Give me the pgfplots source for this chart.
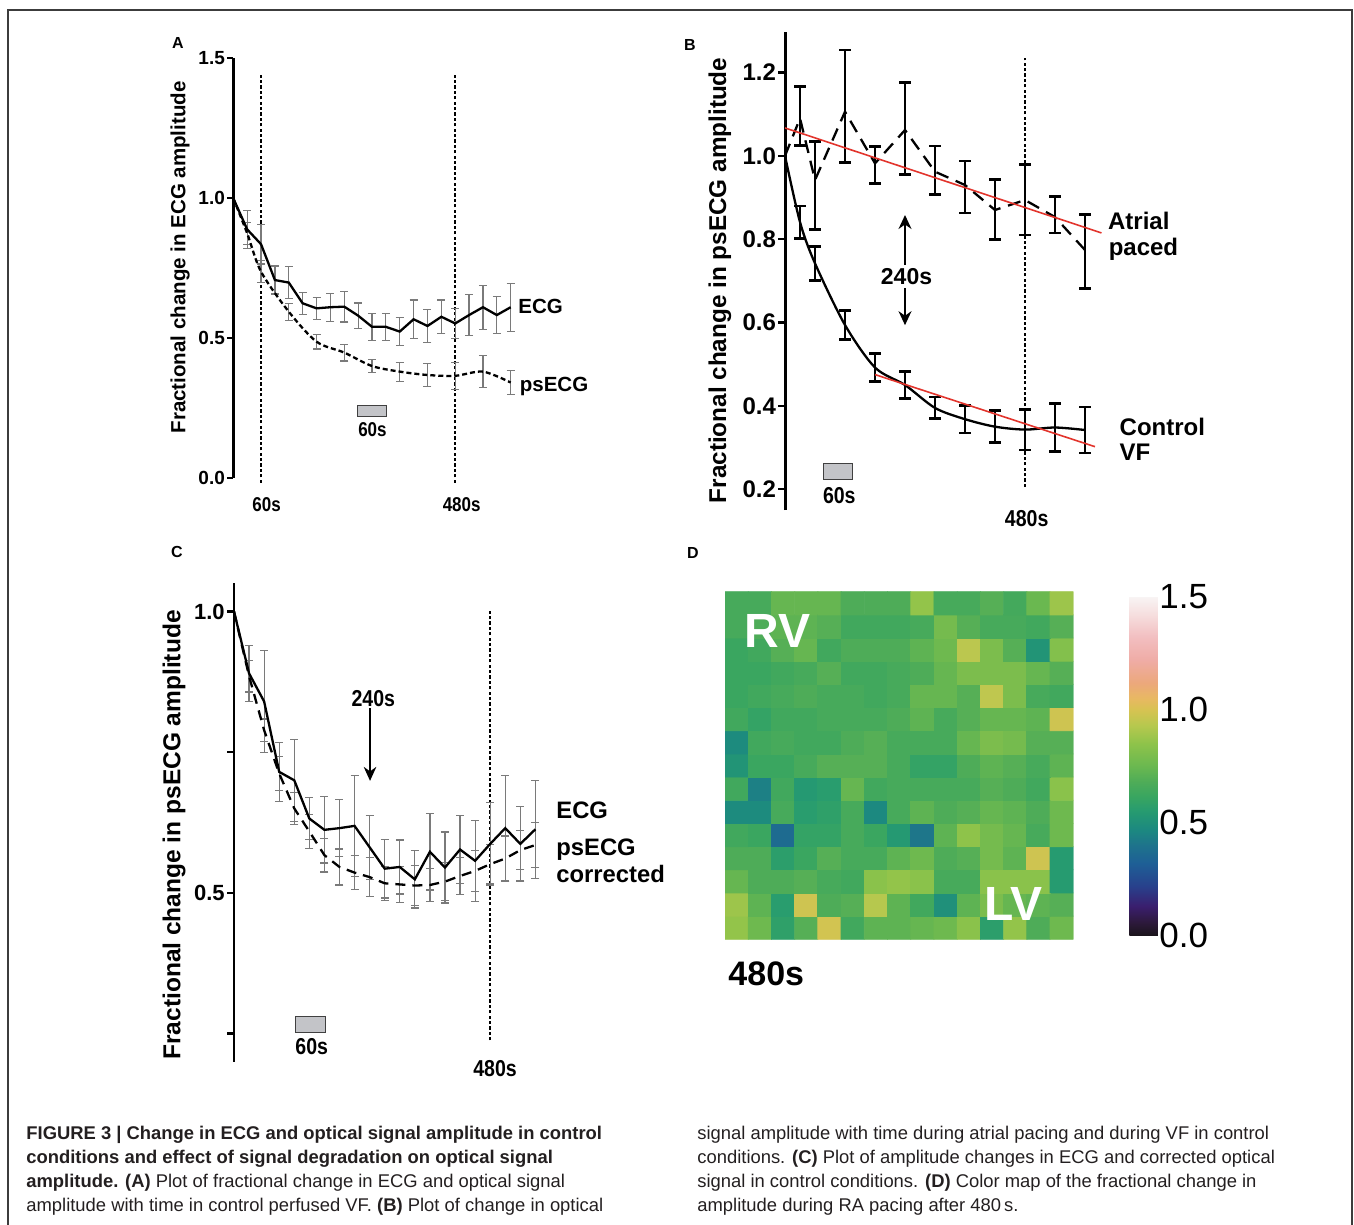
\documentclass[border=0pt]{standalone}
\usepackage{fontspec}
\setmainfont{Liberation Sans}
\newfontfamily\condfont{Liberation Sans}[FakeStretch=0.85]
\newfontfamily\capfont{Liberation Sans}
\usepackage{pgfplots}
\usepackage{pgfplotstable}
\pgfplotsset{compat=1.18}
\usetikzlibrary{arrows.meta}

\newcommand{\fs}[1]{\fontsize{#1}{#1}\selectfont}
\definecolor{capgray}{HTML}{231F20}
\definecolor{errgray}{HTML}{7A7A7A}
\definecolor{boxgray}{HTML}{C3C4C8}
\definecolor{fitred}{HTML}{E2342C}
\definecolor{framegray}{HTML}{3C3C3C}

\pgfplotsset{
  colormap={earth}{
    rgb255(0pt)=(26,20,26) rgb255(6pt)=(45,25,60) rgb255(13pt)=(58,30,110)
    rgb255(22pt)=(40,65,140) rgb255(32pt)=(30,95,150) rgb255(40pt)=(30,115,140)
    rgb255(47pt)=(28,137,128) rgb255(55pt)=(38,155,112) rgb255(62pt)=(58,166,96)
    rgb255(68pt)=(78,172,88) rgb255(75pt)=(106,184,80) rgb255(85pt)=(142,195,74)
    rgb255(93pt)=(182,200,78) rgb255(100pt)=(215,195,82) rgb255(105pt)=(232,184,98)
    rgb255(112pt)=(236,168,124) rgb255(122pt)=(239,172,166) rgb255(132pt)=(242,190,192)
    rgb255(142pt)=(246,222,222) rgb255(150pt)=(248,244,244)
  },
  panel/.style={scale only axis, clip=false, axis x line=none, axis y line*=left,
    tick align=outside, ytick pos=left,
    /pgf/number format/assume math mode=true},
  vdot/.style={black, line width=0.9pt, dash pattern=on 1.6pt off 1.1pt},
  ebars/.style n args={3}{draw=none, skip coords between index={0}{1},
    error bars/y dir=both, error bars/y explicit,
    error bars/error bar style={draw=#1, line width=#2, solid},
    error bars/error mark options={rotate=90, draw=#1, line width=#2, mark size=#3, solid}},
}

% panel A: ECG and psECG, control VF
\pgfplotstableread{
t v e
0 1.000 0
30 0.889 0.067
60 0.836 0.071
90 0.708 0.050
120 0.699 0.057
150 0.625 0.039
180 0.607 0.040
210 0.611 0.050
240 0.613 0.055
270 0.581 0.045
300 0.541 0.049
330 0.541 0.048
360 0.524 0.050
390 0.568 0.069
420 0.544 0.058
450 0.577 0.060
480 0.553 0.054
510 0.583 0.073
540 0.611 0.079
570 0.583 0.067
600 0.611 0.086
}\ecgA
\pgfplotstableread{
t v e
0 1.000 0
30 0.875 0.040
60 0.738 0.039
120 0.595 0.030
180 0.488 0.026
240 0.449 0.030
300 0.401 0.024
360 0.381 0.034
420 0.369 0.040
480 0.366 0.048
540 0.381 0.057
600 0.342 0.044
}\psA

% panel B: psECG, atrial paced and control VF
\pgfplotstableread{
t v ep em
0 1.000 0 0
30 1.090 0.077 0.065
60 0.942 0.093 0.119
120 1.106 0.148 0.122
180 0.982 0.040 0.048
240 1.062 0.114 0.106
300 0.962 0.062 0.055
360 0.930 0.058 0.067
420 0.870 0.073 0.071
480 0.894 0.086 0.084
540 0.853 0.050 0.038
600 0.774 0.086 0.092
}\atrialB
\pgfplotstableread{
t v e
0 1.000 0
30 0.841 0.039
60 0.742 0.041
120 0.594 0.034
180 0.492 0.033
240 0.450 0.033
300 0.395 0.026
360 0.368 0.033
420 0.350 0.038
480 0.343 0.049
540 0.348 0.058
600 0.342 0.055
}\vfB

% panel C: ECG and corrected psECG
\pgfplotstableread{
t v e
0 1.000 0
30 0.890 0.050
60 0.840 0.090
90 0.715 0.052
120 0.700 0.073
150 0.632 0.037
180 0.612 0.059
210 0.615 0.051
240 0.619 0.090
270 0.581 0.057
300 0.543 0.052
330 0.546 0.048
360 0.524 0.051
390 0.573 0.068
420 0.545 0.063
450 0.577 0.061
480 0.557 0.072
510 0.587 0.073
540 0.615 0.094
570 0.587 0.066
600 0.613 0.087
}\ecgC
\pgfplotstableread{
t v e
0 1.000 0
30 0.885 0.028
60 0.789 0.020
90 0.712 0.030
120 0.650 0.028
150 0.609 0.030
180 0.567 0.030
210 0.546 0.032
240 0.536 0.030
270 0.528 0.035
300 0.517 0.030
330 0.515 0.032
360 0.513 0.035
390 0.514 0.030
420 0.520 0.034
450 0.530 0.033
480 0.539 0.036
510 0.551 0.035
540 0.561 0.040
570 0.576 0.035
600 0.585 0.040
}\psC

\begin{document}
\begin{tikzpicture}
\path[use as bounding box] (0,0) rectangle (677pt,-612.5pt);

% ---------------- A
\begin{axis}[panel, at={(116.65pt,-239.15pt)}, anchor=south west,
  width=138.7pt, height=210pt, xmin=0, xmax=600, ymin=0, ymax=1.5,
  ytick={0,0.5,1,1.5}, yticklabels={0.0,0.5,1.0,1.5},
  yticklabel style={font=\bfseries\fs{9.5}, inner sep=1pt},
  axis line style={line width=1.2pt}, major tick length=3pt,
  tick style={line width=1.1pt, black}]
\addplot[vdot] coordinates {(60,-0.016) (60,1.449)};
\addplot[vdot] coordinates {(480,-0.016) (480,1.449)};
\addplot[ebars={errgray}{0.6pt}{2pt}] table[x=t, y=v, y error=e] {\ecgA};
\addplot[ebars={errgray}{0.6pt}{2pt}] table[x=t, y=v, y error=e] {\psA};
\addplot[black, line width=1.15pt] table[x=t, y=v] {\ecgA};
\addplot[black, line width=1.15pt, smooth, dash pattern=on 2.5pt off 1.5pt] table[x=t, y=v] {\psA};
\draw[fill=boxgray, draw=black!75, line width=0.5pt] (axis cs:268,0.222) rectangle (axis cs:332,0.259);
\node[font=\condfont\bfseries\fs{10}] at (axis cs:301,0.1725) {60s};
\node[font=\condfont\bfseries\fs{10}] at (axis cs:72,-0.095) {60s};
\node[font=\condfont\bfseries\fs{10}] at (axis cs:494,-0.095) {480s};
\node[anchor=base west, inner sep=0, font=\bfseries\fs{10.25}] at (axis cs:616,0.589) {ECG};
\node[anchor=base west, inner sep=0, font=\bfseries\fs{10.25}] at (axis cs:619,0.309) {psECG};
\end{axis}

% ---------------- B
\begin{axis}[panel, at={(392.5pt,-255pt)}, anchor=south west,
  width=150pt, height=239.15pt, xmin=0, xmax=600, ymin=0.15, ymax=1.298,
  ytick={0.2,0.4,0.6,0.8,1.0,1.2}, yticklabels={0.2,0.4,0.6,0.8,1.0,1.2},
  yticklabel style={font=\bfseries\fs{12}, inner sep=1pt},
  axis line style={line width=1.5pt}, major tick length=3.3pt,
  tick style={line width=1.25pt, black}]
\addplot[vdot] coordinates {(480,0.205) (480,1.235)};
\addplot[black, line width=1.15pt, dash pattern=on 6.5pt off 4pt] table[x=t, y=v] {\atrialB};
\addplot[black, line width=1.15pt, smooth] table[x=t, y=v] {\vfB};
\addplot[ebars={black}{1.35pt}{2.9pt}] table[x=t, y=v, y error plus=ep, y error minus=em] {\atrialB};
\addplot[ebars={black}{1.35pt}{2.9pt}] table[x=t, y=v, y error=e] {\vfB};
\addplot[fitred, line width=0.8pt] coordinates {(0,1.067) (633,0.815)};
\addplot[fitred, line width=0.8pt] coordinates {(180,0.475) (620,0.302)};
\draw[-{Stealth[length=7pt, width=6.5pt]}, line width=0.75pt] (axis cs:240,0.7376) -- (axis cs:240,0.858);
\draw[-{Stealth[length=7pt, width=6.5pt]}, line width=0.75pt] (axis cs:240,0.682) -- (axis cs:240,0.5936);
\node[font=\bfseries\fs{11.5}] at (axis cs:243,0.7095) {240s};
\draw[fill=boxgray, draw=black!75, line width=0.5pt] (axis cs:76.7,0.223) rectangle (axis cs:135.3,0.262);
\node[font=\condfont\bfseries\fs{11.5}] at (axis cs:108.6,0.1856) {60s};
\node[font=\condfont\bfseries\fs{11.5}] at (axis cs:483.4,0.1297) {480s};
\node[anchor=base west, inner sep=0, font=\bfseries\fs{12}] at (axis cs:645.4,0.823) {Atrial};
\node[anchor=base west, inner sep=0, font=\bfseries\fs{12}] at (axis cs:646.7,0.7616) {paced};
\node[anchor=base west, inner sep=0, font=\bfseries\fs{12}] at (axis cs:668.6,0.3296) {Control};
\node[anchor=base west, inner sep=0, font=\bfseries\fs{12}] at (axis cs:668.6,0.268) {VF};
\end{axis}

% ---------------- C
\begin{axis}[panel, at={(117pt,-530.85pt)}, anchor=south west,
  width=150.7pt, height=239.2pt, xmin=0, xmax=600, ymin=0.2, ymax=1.05,
  ytick={0.25,0.5,0.75,1}, yticklabels={,0.5,,1.0},
  yticklabel style={font=\bfseries\fs{11}, inner sep=1pt},
  axis line style={line width=1.3pt}, major tick length=3.5pt,
  tick style={line width=1.1pt, black}]
\addplot[vdot] coordinates {(510,0.238) (510,1.0)};
\addplot[ebars={errgray}{0.6pt}{2pt}] table[x=t, y=v, y error=e] {\ecgC};
\addplot[ebars={errgray}{0.6pt}{2pt}] table[x=t, y=v, y error=e] {\psC};
\addplot[black, line width=1.15pt, dash pattern=on 5pt off 3.5pt] table[x=t, y=v] {\psC};
\addplot[black, line width=1.15pt] table[x=t, y=v] {\ecgC};
\draw[-{Stealth[length=7pt, width=6.3pt]}, line width=0.75pt] (axis cs:270.8,0.828) -- (axis cs:270.8,0.699);
\node[font=\condfont\bfseries\fs{11.5}] at (axis cs:277.3,0.846) {240s};
\draw[fill=boxgray, draw=black!75, line width=0.5pt] (axis cs:123.4,0.2527) rectangle (axis cs:182.6,0.2806);
\node[font=\condfont\bfseries\fs{11.5}] at (axis cs:154.7,0.226) {60s};
\node[font=\condfont\bfseries\fs{11.5}] at (axis cs:519.7,0.1875) {480s};
\node[anchor=base west, inner sep=0, font=\bfseries\fs{11.9}] at (axis cs:641,0.6324) {ECG};
\node[anchor=base west, inner sep=0, font=\bfseries\fs{11.9}] at (axis cs:641,0.567) {psECG};
\node[anchor=base west, inner sep=0, font=\bfseries\fs{11.9}] at (axis cs:641,0.5178) {corrected};
\end{axis}

% ---------------- D
\begin{axis}[at={(362.5pt,-295.85pt)}, anchor=north west, scale only axis,
  width=174.15pt, height=173.8pt, hide axis, enlargelimits=false,
  xmin=-0.5, xmax=14.5, ymin=-0.5, ymax=14.5,
  colormap name=earth, point meta min=0, point meta max=1.5,
  colorbar, colorbar style={at={(parent axis.north east)}, anchor=north west,
    xshift=19.5pt, yshift=-2.5pt, scale only axis, width=16.65pt, height=169.5pt,
    ytick={0,0.5,1,1.5}, yticklabels={0.0,0.5,1.0,1.5},
    yticklabel style={font=\fs{17.5}, xshift=-5.2pt},
    major tick length=0pt, tick style={draw=none}, axis line style={draw=none},
    /pgf/number format/assume math mode=true}]
\addplot[matrix plot*, mesh/cols=15, point meta=explicit] coordinates {
(0,0)[0.86] (1,0)[0.76] (2,0)[0.58] (3,0)[0.70] (4,0)[0.99] (5,0)[0.64] (6,0)[0.72] (7,0)[0.72] (8,0)[0.74] (9,0)[0.76] (10,0)[0.84] (11,0)[0.57] (12,0)[0.86] (13,0)[0.68] (14,0)[0.76]
(0,1)[0.88] (1,1)[0.72] (2,1)[0.56] (3,1)[0.98] (4,1)[0.68] (5,1)[0.70] (6,1)[0.93] (7,1)[0.72] (8,1)[0.64] (9,1)[0.50] (10,1)[0.72] (11,1)[0.80] (12,1)[0.74] (13,1)[0.72] (14,1)[0.70]
(0,2)[0.74] (1,2)[0.68] (2,2)[0.68] (3,2)[0.70] (4,2)[0.66] (5,2)[0.64] (6,2)[0.84] (7,2)[0.86] (8,2)[0.84] (9,2)[0.66] (10,2)[0.66] (11,2)[0.84] (12,2)[0.84] (13,2)[0.84] (14,2)[0.55]
(0,3)[0.68] (1,3)[0.68] (2,3)[0.57] (3,3)[0.62] (4,3)[0.70] (5,3)[0.66] (6,3)[0.66] (7,3)[0.72] (8,3)[0.76] (9,3)[0.68] (10,3)[0.70] (11,3)[0.78] (12,3)[0.72] (13,3)[0.98] (14,3)[0.55]
(0,4)[0.64] (1,4)[0.62] (2,4)[0.37] (3,4)[0.60] (4,4)[0.60] (5,4)[0.66] (6,4)[0.62] (7,4)[0.54] (8,4)[0.41] (9,4)[0.72] (10,4)[0.85] (11,4)[0.78] (12,4)[0.74] (13,4)[0.66] (14,4)[0.76]
(0,5)[0.48] (1,5)[0.48] (2,5)[0.66] (3,5)[0.56] (4,5)[0.58] (5,5)[0.66] (6,5)[0.47] (7,5)[0.66] (8,5)[0.72] (9,5)[0.68] (10,5)[0.70] (11,5)[0.74] (12,5)[0.72] (13,5)[0.68] (14,5)[0.76]
(0,6)[0.64] (1,6)[0.44] (2,6)[0.64] (3,6)[0.54] (4,6)[0.56] (5,6)[0.74] (6,6)[0.64] (7,6)[0.66] (8,6)[0.66] (9,6)[0.66] (10,6)[0.66] (11,6)[0.70] (12,6)[0.68] (13,6)[0.64] (14,6)[0.84]
(0,7)[0.52] (1,7)[0.62] (2,7)[0.62] (3,7)[0.66] (4,7)[0.70] (5,7)[0.70] (6,7)[0.70] (7,7)[0.66] (8,7)[0.60] (9,7)[0.60] (10,7)[0.68] (11,7)[0.72] (12,7)[0.70] (13,7)[0.66] (14,7)[0.72]
(0,8)[0.48] (1,8)[0.64] (2,8)[0.66] (3,8)[0.64] (4,8)[0.64] (5,8)[0.68] (6,8)[0.70] (7,8)[0.66] (8,8)[0.66] (9,8)[0.66] (10,8)[0.74] (11,8)[0.80] (12,8)[0.78] (13,8)[0.70] (14,8)[0.70]
(0,9)[0.64] (1,9)[0.60] (2,9)[0.64] (3,9)[0.64] (4,9)[0.66] (5,9)[0.66] (6,9)[0.66] (7,9)[0.68] (8,9)[0.72] (9,9)[0.66] (10,9)[0.70] (11,9)[0.74] (12,9)[0.74] (13,9)[0.72] (14,9)[0.98]
(0,10)[0.62] (1,10)[0.64] (2,10)[0.66] (3,10)[0.68] (4,10)[0.66] (5,10)[0.66] (6,10)[0.64] (7,10)[0.66] (8,10)[0.74] (9,10)[0.74] (10,10)[0.70] (11,10)[0.95] (12,10)[0.80] (13,10)[0.66] (14,10)[0.64]
(0,11)[0.62] (1,11)[0.62] (2,11)[0.64] (3,11)[0.66] (4,11)[0.70] (5,11)[0.64] (6,11)[0.64] (7,11)[0.66] (8,11)[0.68] (9,11)[0.74] (10,11)[0.80] (11,11)[0.80] (12,11)[0.80] (13,11)[0.74] (14,11)[0.70]
(0,12)[0.62] (1,12)[0.64] (2,12)[0.70] (3,12)[0.74] (4,12)[0.64] (5,12)[0.68] (6,12)[0.68] (7,12)[0.68] (8,12)[0.72] (9,12)[0.76] (10,12)[0.94] (11,12)[0.80] (12,12)[0.70] (13,12)[0.52] (14,12)[0.82]
(0,13)[0.66] (1,13)[0.68] (2,13)[0.72] (3,13)[0.72] (4,13)[0.70] (5,13)[0.64] (6,13)[0.64] (7,13)[0.64] (8,13)[0.66] (9,13)[0.78] (10,13)[0.70] (11,13)[0.66] (12,13)[0.66] (13,13)[0.64] (14,13)[0.70]
(0,14)[0.66] (1,14)[0.66] (2,14)[0.74] (3,14)[0.74] (4,14)[0.74] (5,14)[0.68] (6,14)[0.68] (7,14)[0.68] (8,14)[0.86] (9,14)[0.66] (10,14)[0.66] (11,14)[0.70] (12,14)[0.65] (13,14)[0.75] (14,14)[0.88]
};
\end{axis}

% ---------------- frame, panel letters, axis titles, caption
\begin{scope}[x=0.5pt, y=-0.5pt]
\draw[framegray, line width=0.75pt] (8,1225) -- (8,10) -- (1352,10) -- (1352,1225);
\node[font=\bfseries\fs{8}] at (178,43) {A};
\node[font=\bfseries\fs{8}] at (690,45) {B};
\node[font=\bfseries\fs{8}] at (177,552) {C};
\node[font=\bfseries\fs{8}] at (693,553) {D};
\node[rotate=90, font=\bfseries\fs{10.25}] at (180,257.5) {Fractional change in ECG amplitude};
\node[rotate=90, font=\bfseries\fs{12.15}] at (720,280.5) {Fractional change in psECG amplitude};
\node[rotate=90, font=\bfseries\fs{12.25}] at (174,835) {Fractional change in psECG amplitude};
\node[white, font=\bfseries\fs{24}] at (777.5,631) {RV};
\node[white, font=\bfseries\fs{24}] at (1013.3,904.2) {LV};
\node[font=\bfseries\fs{17}] at (766.3,973.3) {480s};
\begin{scope}[every node/.style={anchor=base west, inner sep=0, text=capgray, font=\capfont\fs{9.2}}]
\node at (26,1139.3) {\bfseries FIGURE 3 | Change in ECG and optical signal amplitude in control};
\node at (26,1163.3) {\bfseries conditions and effect of signal degradation on optical signal};
\node at (26,1187.7) {{\bfseries amplitude. (A)} Plot of fractional change in ECG and optical signal};
\node at (26,1211.7) {amplitude with time in control perfused VF. {\bfseries (B)} Plot of change in optical};
\node at (697,1139.3) {signal amplitude with time during atrial pacing and during VF in control};
\node at (697,1163.3) {conditions. {\bfseries (C)} Plot of amplitude changes in ECG and corrected optical};
\node at (697,1187.7) {signal in control conditions. {\bfseries (D)} Color map of the fractional change in};
\node at (697,1211.7) {amplitude during RA pacing after 480\,s.};
\end{scope}
\end{scope}
\end{tikzpicture}
\end{document}
